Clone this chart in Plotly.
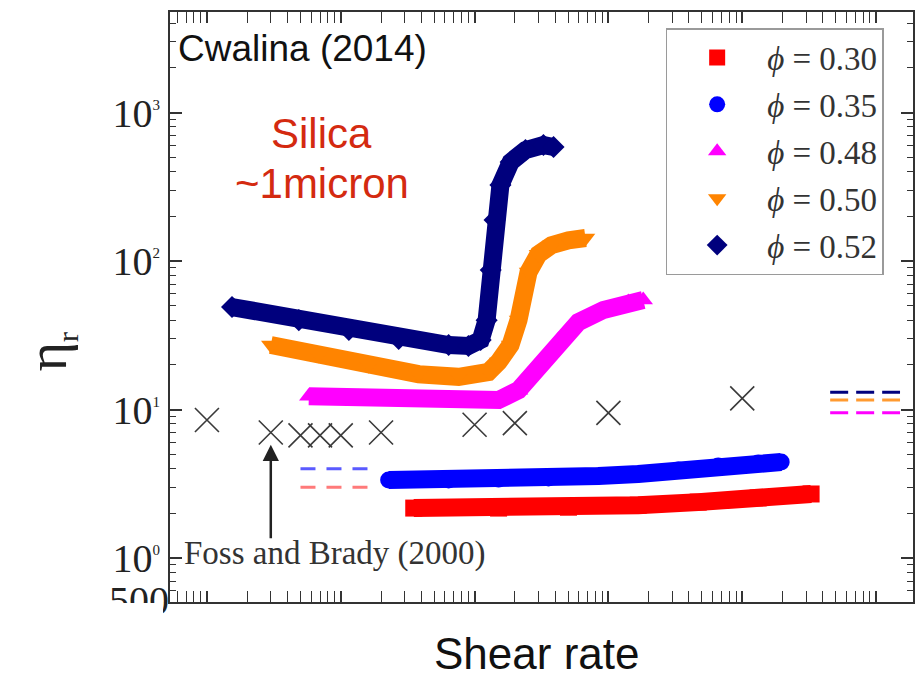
import numpy as np
import plotly.graph_objects as go

# ---------------- data ----------------
phi_labels = ["0.30", "0.35", "0.48", "0.50", "0.52"]

x_030 = [0.351, 1.511, 5.03, 16.7, 46.9, 131.6, 327]
y_030 = [2.17, 2.17, 2.20, 2.27, 2.38, 2.54, 2.70]

x_035 = [0.228, 0.64, 1.511, 3.566, 8.42, 16.7, 33.3, 66.2, 131.6, 195.4]
y_035 = [3.35, 3.35, 3.40, 3.46, 3.57, 3.68, 3.92, 4.17, 4.36, 4.43]

x_048 = [0.0577, 0.136, 0.382, 0.902, 1.511, 2.13, 3.00, 4.235, 5.97, 9.18, 14.1, 18.2]
y_048 = [12.3, 12.1, 11.6, 11.2, 11.6, 13.5, 19.9, 29.4, 38.8, 46.8, 53.0, 54.6]

x_050 = [0.030, 0.0685, 0.162, 0.382, 0.76, 1.27, 1.511, 1.856, 2.13, 2.53, 3.00, 3.76, 5.03, 6.74]
y_050 = [27.2, 23.3, 19.9, 17.3, 16.6, 17.9, 20.9, 27.2, 40.1, 84.3, 111, 128, 138, 143]

x_052 = [0.0154, 0.0486, 0.115, 0.271, 0.64, 0.90, 1.11, 1.23, 1.32, 1.41, 1.56, 1.86, 2.40, 3.27, 3.89]
y_052 = [49, 40, 34.3, 29.9, 27.2, 26.8, 29.4, 40, 87, 189, 325, 464, 559, 604, 586]

# Foss and Brady (2000) simulation points
x_fb = [0.01, 0.03, 0.05, 0.07, 0.1, 0.2, 1.0, 2.0, 10.0, 100.0]
y_fb = [8.5, 7.0, 6.7, 6.7, 6.7, 7.0, 7.9, 8.1, 9.5, 11.9]

# dashed reference levels
x_dash_left = [0.05, 0.162]
y_dash_left_035 = 4.0
y_dash_left_030 = 3.0
x_dash_right = [454, 1510]
y_dash_right_052 = 13.1
y_dash_right_050 = 11.6
y_dash_right_048 = 9.5

y_tick_vals = [1, 10, 100, 1000]
y_tick_text = ["10<sup><span style='font-size:15px'>0</span></sup>",
               "10<sup><span style='font-size:15px'>1</span></sup>",
               "10<sup><span style='font-size:15px'>2</span></sup>",
               "10<sup><span style='font-size:15px'>3</span></sup>"]

# ---------------- styling ----------------
C_RED = "#ff0000"
C_BLUE = "#0000ff"
C_MAG = "#ff00ff"
C_ORA = "#ff8400"
C_NAVY = "#00007d"

series = [
    (x_030, y_030, C_RED, "square"),
    (x_035, y_035, C_BLUE, "circle"),
    (x_048, y_048, C_MAG, "triangle-up"),
    (x_050, y_050, C_ORA, "triangle-down"),
    (x_052, y_052, C_NAVY, "diamond"),
]

fig = go.Figure()

# dashed levels
for xs, yv, col, dash in [
    (x_dash_left, y_dash_left_035, "#5a5aff", "15px,11px"),
    (x_dash_left, y_dash_left_030, "#ff7a7a", "15px,11px"),
    (x_dash_right, y_dash_right_052, C_NAVY, "18px,8px"),
    (x_dash_right, y_dash_right_050, "#ff9a30", "18px,8px"),
    (x_dash_right, y_dash_right_048, C_MAG, "18px,8px"),
]:
    fig.add_trace(go.Scatter(x=xs, y=[yv, yv], mode="lines",
                             line=dict(color=col, width=3, dash=dash),
                             showlegend=False, hoverinfo="skip"))

# Foss & Brady crosses
fig.add_trace(go.Scatter(x=x_fb, y=y_fb, mode="markers",
                         marker=dict(symbol="x-thin", size=24,
                                     line=dict(color="#3a3a3a", width=1.6)),
                         showlegend=False))

# data bands
for xs, ys, col, sym in series:
    fig.add_trace(go.Scatter(x=xs, y=ys, mode="lines+markers",
                             line=dict(color=col, width=18),
                             marker=dict(symbol=sym, size=17, color=col),
                             showlegend=False))

# legend entries (markers only)
for (xs, ys, col, sym), lab in zip(series, phi_labels):
    fig.add_trace(go.Scatter(x=[None], y=[None], mode="markers",
                             marker=dict(symbol=sym, size=20, color=col),
                             name=f"<i>ϕ</i> = {lab}", legendgroup=lab))

# invisible trace for the secondary (label-only) y axis
fig.add_trace(go.Scatter(x=[None], y=[None], yaxis="y2", showlegend=False))

L, R, T, B = 170, 918 - 915, 12, 680 - 602
W, H = 918, 680
pw, ph = W - L - R, H - T - B

def px(xpix):
    return (xpix - L) / pw

def py(ypix):
    return (H - B - ypix) / ph

axis_col = "#333333"
fig.update_layout(
    width=W, height=H,
    margin=dict(l=L, r=R, t=T, b=B),
    paper_bgcolor="white", plot_bgcolor="white",
    xaxis=dict(type="log", range=[-2.276, 3.276], showticklabels=False,
               ticks="inside", ticklen=11, tickwidth=1.5, tickcolor=axis_col,
               dtick=1,
               minor=dict(ticks="inside", ticklen=6, tickwidth=1.2, tickcolor=axis_col,
                          dtick="D1", showgrid=False),
               showline=True, linecolor=axis_col, linewidth=2, mirror="allticks",
               showgrid=False, zeroline=False),
    yaxis=dict(type="log", range=[-0.296, 3.677],
               tickmode="array", tickvals=y_tick_vals, ticktext=y_tick_text,
               tickfont=dict(family="Liberation Serif", size=40, color="#222"),
               ticks="inside", ticklen=12, tickwidth=1.5, tickcolor=axis_col,
               minor=dict(ticks="inside", ticklen=6, tickwidth=1.2, tickcolor=axis_col,
                          dtick="D1", showgrid=False),
               showline=True, linecolor=axis_col, linewidth=2, mirror="allticks",
               showgrid=False, zeroline=False),
    yaxis2=dict(type="log", range=[-0.296, 3.677], overlaying="y", side="left",
                tickmode="array", tickvals=[0.52], ticktext=["500"],
                tickfont=dict(family="Liberation Serif", size=40, color="#222"),
                ticks="", showline=False, showgrid=False, zeroline=False),
    legend=dict(x=px(667), y=py(28), xanchor="left", yanchor="top",
                bgcolor="white", bordercolor="#9a9a9a", borderwidth=1.5,
                font=dict(family="Liberation Serif", size=33, color="#333"),
                tracegroupgap=1, itemwidth=90, indentation=0),
    showlegend=True,
)

# white cover clipping the bottom of the "500" label
fig.add_shape(type="rect", xref="paper", yref="paper",
              x0=px(70), x1=px(163), y0=py(640), y1=py(603),
              fillcolor="white", line=dict(width=0), layer="above")

ann = [
    dict(text="Cwalina (2014)", x=px(176), y=py(48), xanchor="left", yanchor="middle",
         font=dict(family="Liberation Sans", size=37, color="#111")),
    dict(text="Silica", x=px(322), y=py(133), xanchor="center", yanchor="middle",
         font=dict(family="Liberation Sans", size=42, color="#d42a10")),
    dict(text="~1micron", x=px(322), y=py(184), xanchor="center", yanchor="middle",
         font=dict(family="Liberation Sans", size=42, color="#d42a10")),
    dict(text="Foss and Brady (2000)", x=px(182), y=py(553), xanchor="left", yanchor="middle",
         font=dict(family="Liberation Serif", size=33, color="#333")),
    dict(text="Shear rate", x=px(537), y=py(653), xanchor="center", yanchor="middle",
         font=dict(family="Liberation Sans", size=44, color="#111")),
    dict(text="η<sub><span style='font-size:30px'>r</span></sub>", x=px(50), y=py(352),
         xanchor="center", yanchor="middle",
         textangle=-90, font=dict(family="Liberation Serif", size=56, color="#222")),
]
for a in ann:
    fig.add_annotation(xref="paper", yref="paper", showarrow=False, **a)

# arrow pointing at the Foss & Brady point
fig.add_annotation(x=np.log10(x_fb[1]), y=np.log10(5.8), xref="x", yref="y",
                   text="", showarrow=True, ax=0, ay=95,
                   arrowhead=2, arrowsize=1.3, arrowwidth=2.5, arrowcolor="#222")

fig.write_html("out.html")
